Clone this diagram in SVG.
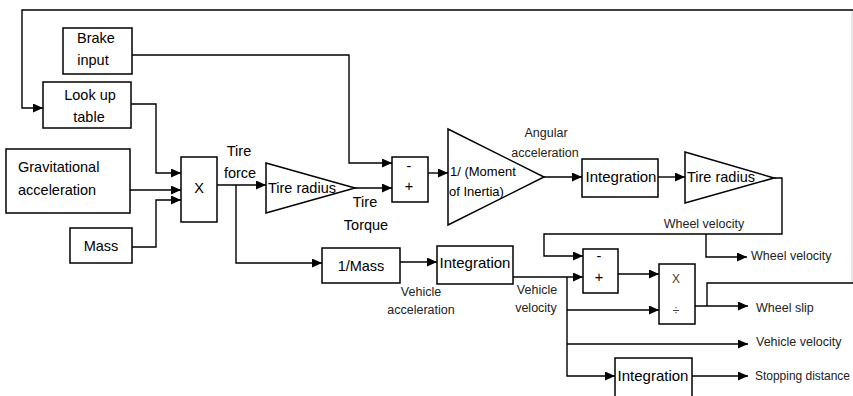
<svg xmlns="http://www.w3.org/2000/svg" width="853" height="396" viewBox="0 0 853 396">
<style>
.b{fill:#fff;stroke:#000;stroke-width:1.5}
.c{fill:none;stroke:#000;stroke-width:1.4}
.t{font-family:"Liberation Sans",Arial,sans-serif;font-size:14.5px;fill:#000}
.s{font-family:"Liberation Sans",Arial,sans-serif;font-size:12.5px;fill:#222}
.m{text-anchor:middle}
</style>
<defs>
<marker id="a" markerUnits="userSpaceOnUse" markerWidth="11" markerHeight="9" refX="10" refY="4.5" orient="auto">
<path d="M0,0 L10,4.5 L0,9 z" fill="#000"/>
</marker>
</defs>
<rect width="853" height="396" fill="#fff"/>
<g id="connectors">
<line x1="852" y1="10" x2="852" y2="283" stroke="#d9d9d9" stroke-width="1.2"/>
<path class="c" d="M853,10 H22 V108 H43" marker-end="url(#a)"/>
<path class="c" d="M132,55 H349 V163 H392" marker-end="url(#a)"/>
<path class="c" d="M131,104 H156 V173 H181" marker-end="url(#a)"/>
<path class="c" d="M130,190 H181" marker-end="url(#a)"/>
<path class="c" d="M132,247 H156 V200 H181" marker-end="url(#a)"/>
<path class="c" d="M217,185 H266" marker-end="url(#a)"/>
<path class="c" d="M236,185 V263 H322" marker-end="url(#a)"/>
<path class="c" d="M355,188 H392" marker-end="url(#a)"/>
<path class="c" d="M428,173 H448" marker-end="url(#a)"/>
<path class="c" d="M544,177 H582" marker-end="url(#a)"/>
<path class="c" d="M658,177 H685" marker-end="url(#a)"/>
<path class="c" d="M774,178 H782 V234 H544 V256 H583" marker-end="url(#a)"/>
<path class="c" d="M706,234 V257 H747" marker-end="url(#a)"/>
<path class="c" d="M400,262 H437" marker-end="url(#a)"/>
<path class="c" d="M513,277 H583" marker-end="url(#a)"/>
<path class="c" d="M618,274 H659" marker-end="url(#a)"/>
<path class="c" d="M567,277 V376 H615" marker-end="url(#a)"/>
<path class="c" d="M567,310 H659" marker-end="url(#a)"/>
<path class="c" d="M567,344 H748" marker-end="url(#a)"/>
<path class="c" d="M695,306 H748" marker-end="url(#a)"/>
<path class="c" d="M707,306 V283 H853"/>
<path class="c" d="M692,376 H748" marker-end="url(#a)"/>
</g>
<g id="brake">
<rect class="b" x="63" y="28" width="69" height="46"/>
<text class="t m" x="96" y="43">Brake</text>
<text class="t m" x="93" y="65">input</text>
</g>
<g id="lookup">
<rect class="b" x="43" y="82" width="88" height="46"/>
<text class="t m" x="90" y="100">Look up</text>
<text class="t m" x="89" y="122">table</text>
</g>
<g id="gravity">
<rect class="b" x="6" y="149" width="124" height="64"/>
<text class="t" x="18" y="172">Gravitational</text>
<text class="t" x="18" y="195">acceleration</text>
</g>
<g id="mass">
<rect class="b" x="70" y="228" width="62" height="35"/>
<text class="t m" x="101" y="251">Mass</text>
</g>
<g id="multiply">
<rect class="b" x="181" y="157" width="36" height="65"/>
<text class="t m" x="199" y="193">X</text>
</g>
<g id="tireforce-label">
<text class="t m" x="239" y="156">Tire</text>
<text class="t m" x="240" y="178">force</text>
</g>
<g id="tireradius1">
<path class="b" d="M266,163 L355,188 L266,213 Z"/>
<text class="t" x="268" y="193">Tire radius</text>
</g>
<g id="tiretorque-label">
<text class="t m" x="365" y="207">Tire</text>
<text class="t m" x="366" y="230">Torque</text>
</g>
<g id="sum1">
<rect class="b" x="392" y="157" width="36" height="45"/>
<text class="t m" x="409" y="171">-</text>
<text class="t m" x="409" y="191">+</text>
</g>
<g id="inertia">
<path class="b" d="M448,129 L544,177 L448,225 Z"/>
<text class="t" style="font-size:13px" x="450" y="176">1/ (Moment</text>
<text class="t" style="font-size:13px" x="449" y="196">of Inertia)</text>
</g>
<g id="angacc-label">
<text class="s m" x="546" y="137">Angular</text>
<text class="s m" x="545" y="157">acceleration</text>
</g>
<g id="integration1">
<rect class="b" x="582" y="159" width="76" height="38"/>
<text class="t m" style="font-size:15px" x="621" y="182">Integration</text>
</g>
<g id="tireradius2">
<path class="b" d="M685,152 L774,178 L685,203 Z"/>
<text class="t" x="687" y="182">Tire radius</text>
</g>
<g id="wheelvel-label">
<text class="s m" x="704" y="228">Wheel velocity</text>
</g>
<g id="wheelvel-out">
<text class="s" x="751" y="260">Wheel velocity</text>
</g>
<g id="invmass">
<rect class="b" x="322" y="248" width="78" height="35"/>
<text class="t m" x="361" y="271">1/Mass</text>
</g>
<g id="vehacc-label">
<text class="s m" x="421" y="296">Vehicle</text>
<text class="s m" x="421" y="314">acceleration</text>
</g>
<g id="integration2">
<rect class="b" x="437" y="246" width="76" height="38"/>
<text class="t m" style="font-size:15px" x="475" y="268">Integration</text>
</g>
<g id="vehvel-label">
<text class="s m" x="537" y="294">Vehicle</text>
<text class="s m" x="536" y="312">velocity</text>
</g>
<g id="sum2">
<rect class="b" x="583" y="249" width="35" height="44"/>
<text class="t m" x="599" y="261">-</text>
<text class="t m" x="599" y="282">+</text>
</g>
<g id="divide">
<rect class="b" x="659" y="264" width="36" height="60"/>
<text class="s m" style="font-size:12px;fill:#4a3a2a" x="676" y="283">X</text>
<text class="s m" style="font-size:12px;fill:#4a3a2a" x="676" y="315">÷</text>
</g>
<g id="wheelslip-out">
<text class="s" x="756" y="312">Wheel slip</text>
</g>
<g id="vehvel-out">
<text class="s" x="756" y="346">Vehicle velocity</text>
</g>
<g id="integration3">
<rect class="b" x="615" y="358" width="77" height="45"/>
<text class="t m" style="font-size:15px" x="653" y="381">Integration</text>
</g>
<g id="stopping-out">
<text class="s" x="755" y="380" textLength="95" lengthAdjust="spacingAndGlyphs">Stopping distance</text>
</g>
</svg>
